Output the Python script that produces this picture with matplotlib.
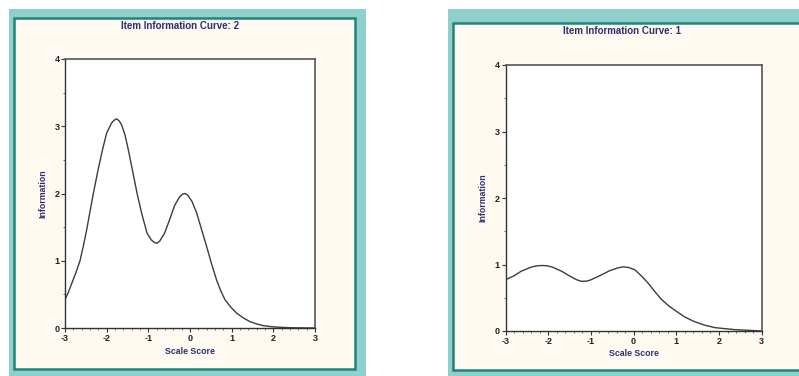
import matplotlib
matplotlib.use("Agg")
import matplotlib.pyplot as plt
from matplotlib.patches import Rectangle
from matplotlib.ticker import MultipleLocator

plt.rcParams['font.family'] = ['Liberation Sans', 'DejaVu Sans']
plt.rcParams['axes.unicode_minus'] = False

# curve (item 2)
scale_2 = [-3.0, -2.92, -2.84, -2.74, -2.64, -2.56, -2.48, -2.4, -2.32, -2.2,
           -2.1, -2.0, -1.88, -1.82, -1.76, -1.70, -1.64, -1.56, -1.48, -1.36,
           -1.27, -1.15, -1.03, -0.93, -0.85, -0.79, -0.73, -0.61, -0.49, -0.37,
           -0.25, -0.18, -0.12, -0.06, 0.05, 0.16, 0.28, 0.4, 0.52, 0.64,
           0.74, 0.84, 0.98, 1.12, 1.28, 1.44, 1.6, 1.76, 1.95, 2.16,
           2.5, 3.0]
info_2 = [0.42, 0.53, 0.66, 0.82, 1.0, 1.22, 1.46, 1.73, 2.0, 2.37,
          2.65, 2.9, 3.05, 3.09, 3.11, 3.08, 3.02, 2.87, 2.65, 2.28,
          2.0, 1.68, 1.41, 1.31, 1.27, 1.26, 1.29, 1.41, 1.61, 1.82,
          1.95, 1.99, 2.0, 1.98, 1.88, 1.71, 1.46, 1.21, 0.95, 0.71,
          0.55, 0.42, 0.31, 0.22, 0.15, 0.094, 0.06, 0.035, 0.02, 0.01,
          0.003, 0.0]

# curve (item 1)
scale_1 = [-3.0, -2.8, -2.63, -2.4, -2.27, -2.15, -2.02, -1.9, -1.69, -1.45,
           -1.33, -1.22, -1.1, -1.0, -0.83, -0.55, -0.36, -0.24, -0.12, 0.03,
           0.18, 0.34, 0.5, 0.66, 0.82, 0.97, 1.2, 1.44, 1.68, 1.91,
           2.38, 3.0]
info_1 = [0.77, 0.83, 0.9, 0.96, 0.98, 0.985, 0.98, 0.96, 0.9, 0.81,
          0.77, 0.746, 0.75, 0.77, 0.82, 0.91, 0.95, 0.965, 0.955, 0.92,
          0.83, 0.72, 0.59, 0.47, 0.38, 0.31, 0.21, 0.137, 0.085, 0.05,
          0.02, 0.0]

titles = ["Item Information Curve: 2", "Item Information Curve: 1"]
xticks = [-3, -2, -1, 0, 1, 2, 3]
yticks = [0, 1, 2, 3, 4]

W, H = 799, 376
LIGHT = '#8fd0cf'
DARK = '#1f8579'
CREAM = '#fefaf2'
NAVY = '#2e2e70'

fig = plt.figure(figsize=(W / 100, H / 100), dpi=100)
fig.patch.set_facecolor('white')


def box(x0, y0, x1, y1, **kw):
    # pixel box (top-left origin) -> figure rectangle
    r = Rectangle((x0 / W, 1 - y1 / H), (x1 - x0) / W, (y1 - y0) / H,
                  transform=fig.transFigure, **kw)
    fig.add_artist(r)


# panel frames
box(9, 9, 366, 376, facecolor=LIGHT, edgecolor='none', zorder=0)
box(14, 18, 355, 369, facecolor=CREAM, edgecolor=DARK, linewidth=1.8, zorder=0)
box(448, 9, 799, 376, facecolor=LIGHT, edgecolor='none', zorder=0)
box(453, 23, 805, 370, facecolor=CREAM, edgecolor=DARK, linewidth=1.8, zorder=0)

panels = [
    (65, 59, 315, 328, scale_2, info_2, titles[0], 180, 26, 43, 351),
    (505.5, 65, 761.7, 331, scale_1, info_1, titles[1], 622, 31, 483, 354),
]

for x0, y0, x1, y1, xs, ys, title, tx, ty, lx, ly in panels:
    ax = fig.add_axes([x0 / W, 1 - y1 / H, (x1 - x0) / W, (y1 - y0) / H])
    ax.set_facecolor('white')
    ax.plot(xs, ys, color='#3c3c3c', linewidth=1.0)
    ax.set_xlim(-3, 3)
    ax.set_ylim(0, 4)
    ax.set_xticks(xticks)
    ax.set_yticks(yticks)
    ax.xaxis.set_minor_locator(MultipleLocator(0.2))
    ax.yaxis.set_minor_locator(MultipleLocator(0.5))
    ax.tick_params(which='major', length=3, width=0.8, color='#333333',
                   labelsize=6.5, pad=1, labelcolor='#222222')
    ax.tick_params(which='minor', length=1.5, width=0.6, color='#555555')
    for lab in ax.get_xticklabels() + ax.get_yticklabels():
        lab.set_fontweight('bold')
    for side in ['left', 'bottom']:
        ax.spines[side].set_color('#333333')
        ax.spines[side].set_linewidth(1.0)
    for side in ['top', 'right']:
        ax.spines[side].set_color('#555555')
        ax.spines[side].set_linewidth(1.2)

    fig.text(tx / W, 1 - ty / H, title, ha='center', va='center',
             fontsize=7, fontweight='bold', color=NAVY)
    fig.text(lx / W, 1 - ((y0 + y1) / 2) / H, "Information", ha='center',
             va='center', rotation=90, fontsize=6.3, fontweight='bold', color=NAVY)
    fig.text(((x0 + x1) / 2) / W, 1 - ly / H, "Scale Score", ha='center',
             va='center', fontsize=6.3, fontweight='bold', color=NAVY)

fig.savefig('out.png', dpi=100)
